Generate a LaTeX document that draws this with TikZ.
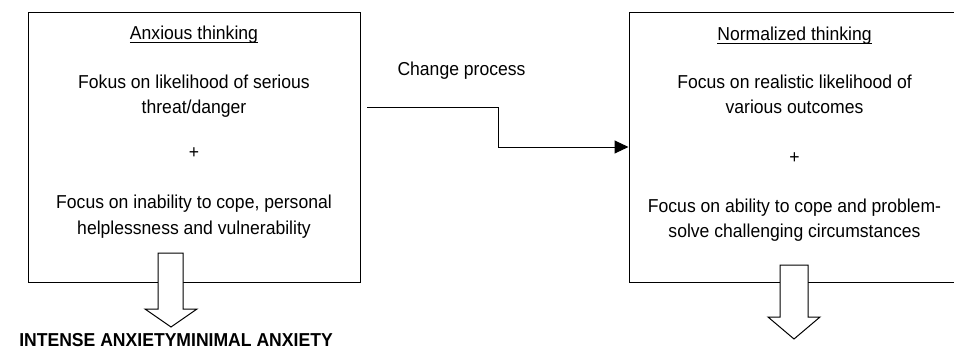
\documentclass[tikz,border=0pt]{standalone}
\usepackage{fontspec}
\setmainfont{Liberation Sans}[FakeStretch=0.94]
\usetikzlibrary{arrows.meta}
\begin{document}
\begin{tikzpicture}[x=1pt,y=-1pt,
  txt/.style={inner sep=0pt, anchor=base, font=\fontsize{18.7}{22}\selectfont},
  boldtxt/.style={inner sep=0pt, anchor=base, font=\fontsize{18.7}{22}\selectfont\bfseries},
  boxs/.style={draw, line width=1pt, inner sep=0pt},
  uline/.style={line width=0.8pt},
  blockarrow/.style={draw, line width=1pt, fill=white, line join=miter},
  conn/.style={line width=1pt, -{Triangle[length=14pt,width=13pt]}}]
\clip (0,0) rectangle (954,348);
\useasboundingbox (0,0) rectangle (954,348);
% boxes
\node[boxs, minimum width=332pt, minimum height=270pt] (lbox) at (194,147) {};
\node[boxs, minimum width=331pt, minimum height=270pt] (rbox) at (794.5,147) {};
% left texts
\node[txt] (lh) at (194,39) {Anxious thinking};
\draw[uline] ([yshift=-3pt]lh.base west) -- ([yshift=-3pt]lh.base east);
\node[txt] (l1) at (194,88) {Fokus on likelihood of serious};
\node[txt] (l2) at (194,113.5) {threat/danger};
\node[txt] (lp) at (194,158) {+};
\node[txt] (l3) at (194,208) {Focus on inability to cope, personal};
\node[txt] (l4) at (194,234) {helplessness and vulnerability};
% right texts
\node[txt] (rh) at (794.5,40) {Normalized thinking};
\draw[uline] ([yshift=-3pt]rh.base west) -- ([yshift=-3pt]rh.base east);
\node[txt] (r1) at (794.5,88) {Focus on realistic likelihood of};
\node[txt] (r2) at (794.5,113) {various outcomes};
\node[txt] (rp) at (794.5,163) {+};
\node[txt] (r3) at (794.5,212) {Focus on ability to cope and problem-};
\node[txt] (r4) at (794.5,237.5) {solve challenging circumstances};
% change process
\node[txt] (cp) at (461.5,75) {Change process};
\coordinate (cs) at (367,107);
\draw[conn] (cs) -- ++(131,0) |- (rbox.west);
% block arrows
\draw[blockarrow] (158,253) -- (158,309) -- (145,309) -- (171,327) -- (197,309) -- (183,309) -- (183,253) -- cycle;
\draw[blockarrow] (780,265) -- (780,317) -- (768,317) -- (794,339) -- (820,317) -- (808,317) -- (808,265) -- cycle;
% bottom label
\node[boldtxt] (lab) at (176,346) {INTENSE ANXIETYMINIMAL ANXIETY};
\end{tikzpicture}
\end{document}
